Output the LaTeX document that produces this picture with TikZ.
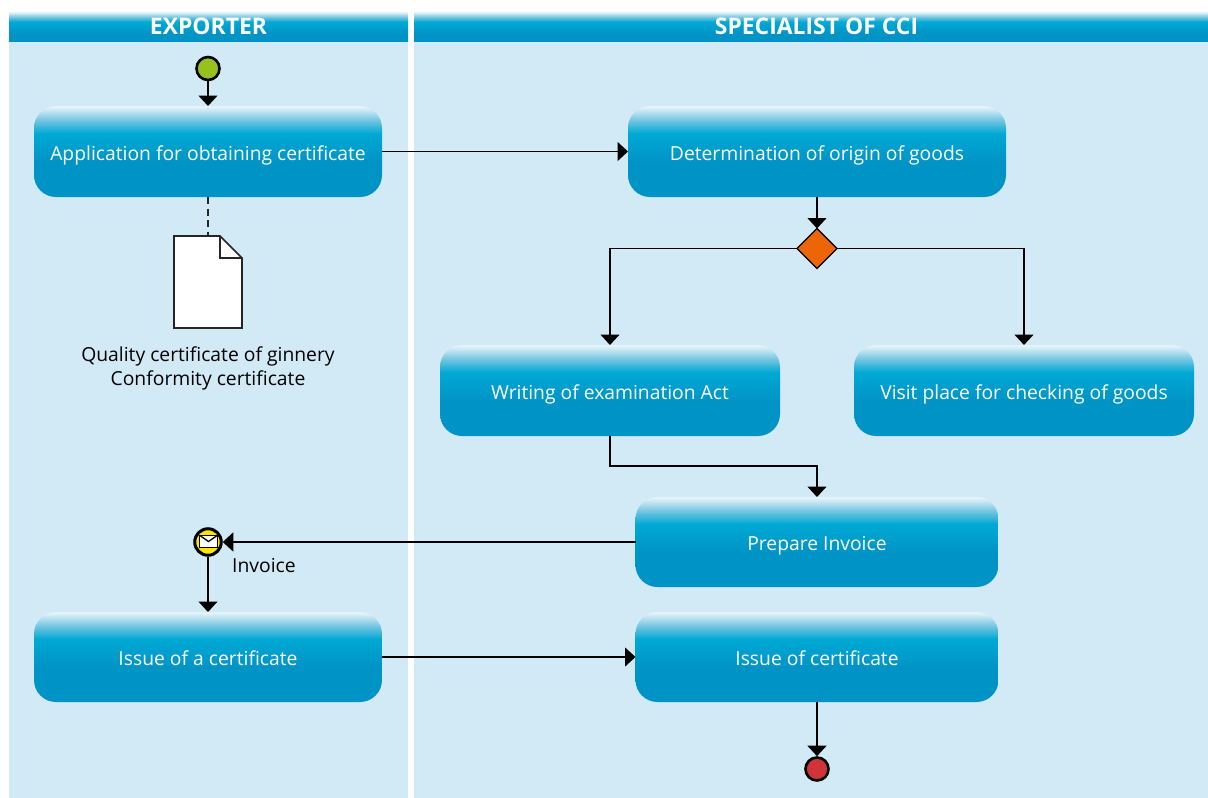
\documentclass[tikz,border=0pt]{standalone}
\usepackage{fontspec}
\setmainfont{Open Sans}
\usetikzlibrary{arrows.meta,shapes.geometric}
\definecolor{panel}{HTML}{D2E9F6}
\definecolor{toplight}{HTML}{E4F3FA}
\definecolor{softblue}{HTML}{70C4E0}
\definecolor{midblue}{HTML}{00A9D4}
\definecolor{lowblue}{HTML}{0093C6}
\pgfdeclareverticalshading{boxshade}{100bp}{color(0bp)=(lowblue); color(25bp)=(lowblue); color(44bp)=(lowblue); color(60bp)=(midblue); color(67bp)=(softblue); color(74.5bp)=(toplight); color(75bp)=(toplight); color(100bp)=(toplight)}
\pgfdeclareverticalshading{headshade}{100bp}{color(0bp)=(lowblue); color(25bp)=(lowblue); color(38bp)=(lowblue); color(58bp)=(midblue); color(66bp)=(softblue); color(74.5bp)=(toplight); color(75bp)=(toplight); color(100bp)=(toplight)}
\tikzset{
  flowbox/.style={rectangle,rounded corners=22pt,shading=boxshade,text=white,font=\fontsize{19.3}{24}\selectfont,inner sep=0pt,outer sep=0pt,align=center,text height=17pt,text depth=0pt},
  headbar/.style={rectangle,shading=headshade,inner sep=0pt,outer sep=0pt,minimum height=29pt},
  headtext/.style={text=white,font=\fontsize{22.9}{26}\selectfont\bfseries,inner sep=0pt,text height=16.5pt,text depth=0pt},
  flow/.style={line width=1.5pt,draw=black,-{Triangle[width=19pt,length=10.5pt]}},
  plain/.style={line width=1.5pt,draw=black},
  event/.style={circle,draw=black,line width=2.6pt,minimum size=23pt,inner sep=0pt},
  caption/.style={font=\fontsize{19.3}{24}\selectfont,text=black,inner sep=0pt,align=center},
}
\begin{document}
\begin{tikzpicture}[x=1pt,y=-1pt]
\useasboundingbox (0,0) rectangle (1208,798);
\fill[white] (0,0) rectangle (1208,798);
\fill[panel] (9,41) rectangle (408,798);
\fill[panel] (414,41) rectangle (1208,798);
\node[headbar,minimum width=399pt] (h1) at (208.5,26.5) {};
\node[headbar,minimum width=794pt] (h2) at (811,26.5) {};
\node[headtext] (h1t) at (208.5,26) {EXPORTER};
\node[headtext] (h2t) at (816.5,26) {SPECIALIST OF CCI};

\node[flowbox,minimum width=348pt,minimum height=91pt] (app) at (208,151.5) {Application for obtaining certificate};
\node[flowbox,minimum width=378pt,minimum height=91pt] (det) at (817,151.5) {Determination of origin of goods};
\node[flowbox,minimum width=340pt,minimum height=91pt] (wri) at (610,390.5) {Writing of examination Act};
\node[flowbox,minimum width=340pt,minimum height=91pt] (vis) at (1024,390.5) {Visit place for checking of goods};
\node[flowbox,minimum width=363pt,minimum height=90pt] (pre) at (817,542) {Prepare Invoice};
\node[flowbox,minimum width=348pt,minimum height=90pt] (isa) at (208,657) {Issue of a certificate};
\node[flowbox,minimum width=363pt,minimum height=90pt] (iso) at (817,657) {Issue of certificate};

\node[event,fill={rgb,255:red,150;green,193;blue,31}] (start) at (208,68.5) {};
\node[event,fill={rgb,255:red,209;green,52;blue,56}] (stop) at (817,769) {};
\node[event,minimum size=26.5pt,line width=3pt,fill={rgb,255:red,255;green,230;blue,0}] (msg) at (208,542) {};
\node[diamond,draw=black,line width=1.2pt,fill={rgb,255:red,236;green,102;blue,8},minimum width=40pt,minimum height=40pt,inner sep=0pt,outer sep=0pt,aspect=1] (gate) at (817,248.5) {};

% envelope
\node[rectangle,draw=black,line width=1.3pt,fill=white,minimum width=18pt,minimum height=12.5pt,inner sep=0pt,outer sep=0pt] (env) at (208.5,541.5) {};
\draw[line width=1.3pt] (env.north west) -- (env.center) -- (env.north east);

% document
\node[rectangle,minimum width=68pt,minimum height=92pt,inner sep=0pt,outer sep=0pt] (doc) at (208,282) {};
\draw[line width=1.6pt,fill=white,draw=black!85] (doc.north west) -- (220,236) -- (242,258) -- (doc.south east) -- (doc.south west) -- cycle;
\draw[line width=1.6pt,draw=black!85] (220,236) -- (220,258) -- (242,258);

\node[caption] (cap) at (208,368) {Quality certificate of ginnery\\Conformity certificate};
\node[caption,anchor=west] (inv) at (232,566) {Invoice};

\draw[flow] (start) -- (app);
\draw[flow] (app.east) -- (det.west);
\draw[flow] (det) -- (gate);
\draw[flow] (gate.west) -| (wri.north);
\draw[flow] (gate.east) -| (vis.north);
\draw[flow] (wri.south) -- ++(0,30) -| (pre.north);
\draw[flow] (pre.west) -- (msg.east);
\draw[flow] (msg) -- (isa);
\draw[flow] (isa.east) -- (iso.west);
\draw[flow] (iso) -- (stop);
\draw[plain,dash pattern=on 7pt off 4.5pt,draw=black!85] (app.south) -- (doc.north);
\end{tikzpicture}
\end{document}
